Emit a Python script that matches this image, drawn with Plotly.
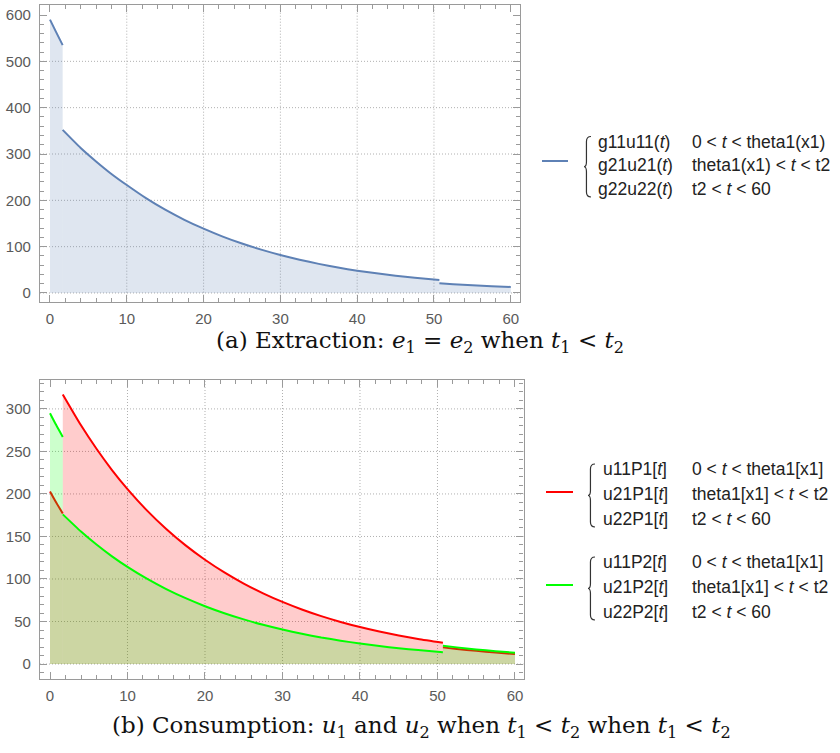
import plotly.graph_objects as go

# ---------------- data ----------------
# (a) extraction, three pieces
ext_t1 = [0, 0.8, 1.65]
ext_y1 = [590, 563, 535]
ext_t2 = [1.65, 4, 6, 8, 10, 12.5, 15, 17.5, 20, 22.5, 25, 27.5, 30, 32.5, 35, 37.5, 40, 42.5, 45, 47.5, 50.7]
ext_y2 = [352, 313, 284, 257, 233, 204.7, 179.8, 158, 138.8, 121.7, 106.7, 93.6, 82, 71.8, 62.8, 55, 48.1, 42.4, 37.4, 33, 28.1]
ext_t3 = [50.7, 52.5, 55, 57.5, 60]
ext_y3 = [20.8, 18.9, 16.7, 14.8, 13.0]

# (b) consumption, player 1 (red) and player 2 (green)
p1_t1 = [0, 0.8, 1.65]
p1_y1 = [203, 190, 177]
p1_t2 = [1.65, 4, 6, 8, 10, 12.5, 15, 17.5, 20, 22.5, 25, 27.5, 30, 32.5, 35, 37.5, 40, 42.5, 45, 47.5, 50.7]
p1_y2 = [317, 280.7, 253.1, 228.1, 205.7, 180.7, 158.8, 139.5, 122.6, 107.7, 94.6, 83.1, 73.0, 64.1, 56.3, 49.5, 43.5, 38.2, 33.6, 29.5, 25.0]
p1_t3 = [50.7, 52.5, 55, 57.5, 60]
p1_y3 = [19.6, 17.8, 15.5, 13.5, 11.8]

p2_t1 = [0, 0.8, 1.65]
p2_y1 = [295, 281, 267]
p2_t2 = p1_t2
p2_y2 = [176, 155.8, 140.5, 126.6, 114.2, 100.3, 88.1, 77.4, 68.0, 59.8, 52.5, 46.1, 40.5, 35.6, 31.2, 27.5, 24.1, 21.2, 18.6, 16.4, 13.9]
p2_t3 = p1_t3
p2_y3 = [21.4, 19.6, 17.2, 15.1, 13.3]

x_ticks = [0, 10, 20, 30, 40, 50, 60]
top_y_ticks = [0, 100, 200, 300, 400, 500, 600]
bot_y_ticks = [0, 50, 100, 150, 200, 250, 300]
x_grid = [10, 20, 30, 40, 50]
top_y_grid = [0, 100, 200, 300, 400, 500]
bot_y_grid = [0, 50, 100, 150, 200, 250, 300]

legend_a = [["g11u11(<i>t</i>)", "0 &lt; <i>t</i> &lt; theta1(x1)"],
            ["g21u21(<i>t</i>)", "theta1(x1) &lt; <i>t</i> &lt; t2"],
            ["g22u22(<i>t</i>)", "t2 &lt; <i>t</i> &lt; 60"]]
legend_p1 = [["u11P1[<i>t</i>]", "0 &lt; <i>t</i> &lt; theta1[x1]"],
             ["u21P1[<i>t</i>]", "theta1[x1] &lt; <i>t</i> &lt; t2"],
             ["u22P1[<i>t</i>]", "t2 &lt; <i>t</i> &lt; 60"]]
legend_p2 = [["u11P2[<i>t</i>]", "0 &lt; <i>t</i> &lt; theta1[x1]"],
             ["u21P2[<i>t</i>]", "theta1[x1] &lt; <i>t</i> &lt; t2"],
             ["u22P2[<i>t</i>]", "t2 &lt; <i>t</i> &lt; 60"]]

caption_a = "(a) Extraction: <i>e</i><sub>1</sub> = <i>e</i><sub>2</sub> when <i>t</i><sub>1</sub> &lt; <i>t</i><sub>2</sub>"
caption_b = ("(b) Consumption: <i>u</i><sub>1</sub> and <i>u</i><sub>2</sub> when <i>t</i><sub>1</sub> &lt; <i>t</i><sub>2</sub>"
             " when <i>t</i><sub>1</sub> &lt; <i>t</i><sub>2</sub>")

# ---------------- styling ----------------
W, H = 840, 753
BLUE = "#5E81B5"
BLUE_FILL = "rgba(94,129,181,0.2)"
RED = "#FF0000"
RED_FILL = "rgba(255,0,0,0.2)"
GREEN = "#00FF00"
GREEN_FILL = "rgba(0,255,0,0.2)"
FRAME = "#9a9a9a"
LABEL = "#5a5a5a"
GRID = "#b0b0b0"


def px(x):
    return x / W


def py(y):
    return 1 - y / H


fig = go.Figure()


def seg(t, y, line_c, fill_c, xa, ya):
    fig.add_trace(go.Scatter(x=t, y=y, mode="lines", line=dict(color=line_c, width=2, shape="spline", smoothing=0.6),
                             fill="tozeroy", fillcolor=fill_c, xaxis=xa, yaxis=ya,
                             showlegend=False, hoverinfo="skip"))


for t, y in [(ext_t1, ext_y1), (ext_t2, ext_y2), (ext_t3, ext_y3)]:
    seg(t, y, BLUE, BLUE_FILL, "x", "y")
for t, y in [(p1_t1, p1_y1), (p1_t2, p1_y2), (p1_t3, p1_y3)]:
    seg(t, y, RED, RED_FILL, "x2", "y2")
for t, y in [(p2_t1, p2_y1), (p2_t2, p2_y2), (p2_t3, p2_y3)]:
    seg(t, y, GREEN, GREEN_FILL, "x2", "y2")

axis_common = dict(showline=True, mirror="allticks", linecolor=FRAME, linewidth=1.2,
                   ticks="inside", ticklen=7, tickwidth=1, tickcolor=FRAME,
                   showgrid=False, zeroline=False,
                   tickfont=dict(family="Liberation Sans, Arial", size=15, color=LABEL))

fig.update_layout(
    width=W, height=H, margin=dict(l=0, r=0, t=0, b=0),
    paper_bgcolor="white", plot_bgcolor="white",
    xaxis=dict(domain=[px(40), px(520)], range=[-1.30, 61.2], anchor="y",
               tickvals=x_ticks, ticklabelstandoff=3,
               minor=dict(ticks="inside", ticklen=4, dtick=2, tick0=0, tickcolor=FRAME, showgrid=False),
               **axis_common),
    yaxis=dict(domain=[py(301.7), py(5)], range=[-18.8, 621.6], anchor="x",
               tickvals=top_y_ticks, ticklabelstandoff=5,
               minor=dict(ticks="inside", ticklen=4, dtick=20, tick0=0, tickcolor=FRAME, showgrid=False),
               **axis_common),
    xaxis2=dict(domain=[px(40), px(523.5)], range=[-1.29, 61.1], anchor="y2",
                tickvals=x_ticks, ticklabelstandoff=3,
                minor=dict(ticks="inside", ticklen=4, dtick=2, tick0=0, tickcolor=FRAME, showgrid=False),
                **axis_common),
    yaxis2=dict(domain=[py(679), py(380)], range=[-17.6, 334], anchor="x2",
                tickvals=bot_y_ticks, ticklabelstandoff=5,
                minor=dict(ticks="inside", ticklen=4, dtick=10, tick0=0, tickcolor=FRAME, showgrid=False),
                **axis_common),
)

shapes = []
# grid lines
for xa, ya, xg, yg in [("x", "y", x_grid, top_y_grid), ("x2", "y2", x_grid, bot_y_grid)]:
    for v in xg:
        shapes.append(dict(type="line", xref=xa, yref=ya + " domain", x0=v, x1=v, y0=0, y1=1,
                           line=dict(color=GRID, width=1, dash="1px,2px"), layer="below"))
    for v in yg:
        shapes.append(dict(type="line", xref=xa + " domain", yref=ya, x0=0, x1=1, y0=v, y1=v,
                           line=dict(color=GRID, width=1, dash="1px,2px"), layer="below"))


def brace(xr, yt, yb, w=7):
    xm = xr - w * 0.65
    xl = xr - w
    ym = (yt + yb) / 2
    r = 5
    pts = f"M {px(xr)},{py(yt)} Q {px(xm)},{py(yt)} {px(xm)},{py(yt + r)} L {px(xm)},{py(ym - r)} " \
          f"Q {px(xm)},{py(ym)} {px(xl)},{py(ym)} Q {px(xm)},{py(ym)} {px(xm)},{py(ym + r)} " \
          f"L {px(xm)},{py(yb - r)} Q {px(xm)},{py(yb)} {px(xr)},{py(yb)}"
    return dict(type="path", xref="paper", yref="paper", path=pts, line=dict(color="#333", width=1.2))


annotations = []
LFONT = dict(family="Liberation Sans, Arial", size=17.5, color="#222")


def legend_block(color, line_y, line_x0, line_x1, brace_x, rows_y, col1_x, col2_x, rows):
    shapes.append(dict(type="line", xref="paper", yref="paper", x0=px(line_x0), x1=px(line_x1),
                       y0=py(line_y), y1=py(line_y), line=dict(color=color, width=2)))
    shapes.append(brace(brace_x, rows_y[0] - 5, rows_y[-1] + 8))
    for (c1, c2), ry in zip(rows, rows_y):
        annotations.append(dict(xref="paper", yref="paper", x=px(col1_x), y=py(ry), xanchor="left",
                                yanchor="middle", text=c1, showarrow=False, font=LFONT, borderpad=0))
        annotations.append(dict(xref="paper", yref="paper", x=px(col2_x), y=py(ry), xanchor="left",
                                yanchor="middle", text=c2, showarrow=False, font=LFONT, borderpad=0))


legend_block(BLUE, 161, 542, 568, 591, [141.5, 165, 189], 597, 691, legend_a)
legend_block(RED, 492, 546, 573, 595, [469, 494, 519], 602, 691, legend_p1)
legend_block(GREEN, 585, 546, 573, 595, [562, 587, 612], 602, 691, legend_p2)

CFONT = dict(family="DejaVu Serif", size=23, color="#111")
annotations.append(dict(xref="paper", yref="paper", x=px(420), y=py(342), xanchor="center", yanchor="middle",
                        text=caption_a, showarrow=False, font=CFONT))
annotations.append(dict(xref="paper", yref="paper", x=px(421), y=py(727), xanchor="center", yanchor="middle",
                        text=caption_b, showarrow=False, font=CFONT))

fig.update_layout(shapes=shapes, annotations=annotations)
fig.write_html("out.html")
